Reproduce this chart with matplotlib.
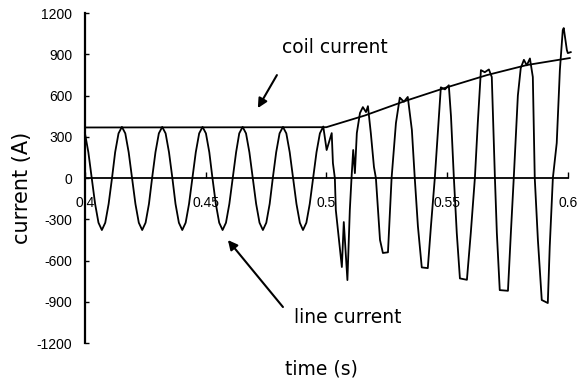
"""
Coil current and line current around the 0.5 s switching event.
"""
import matplotlib
matplotlib.use("Agg")
import matplotlib.pyplot as plt

plt.rcParams["axes.unicode_minus"] = False

# line current (A)
LINE_T = [0.4000, 0.4014, 0.4028, 0.4042, 0.4056, 0.4070, 0.4084, 0.4098, 0.4112, 0.4125,
          0.4139, 0.4153, 0.4167, 0.4181, 0.4195, 0.4209, 0.4223, 0.4237, 0.4251, 0.4265,
          0.4278, 0.4292, 0.4306, 0.4320, 0.4334, 0.4348, 0.4362, 0.4375, 0.4389, 0.4403,
          0.4417, 0.4431, 0.4445, 0.4459, 0.4473, 0.4487, 0.4501, 0.4515, 0.4528, 0.4542,
          0.4556, 0.4570, 0.4584, 0.4598, 0.4612, 0.4626, 0.4639, 0.4653, 0.4667, 0.4681,
          0.4695, 0.4709, 0.4723, 0.4737, 0.4751, 0.4765, 0.4778, 0.4792, 0.4806, 0.4820,
          0.4834, 0.4848, 0.4862, 0.4876, 0.4890, 0.4903, 0.4917, 0.4931, 0.4945, 0.4959,
          0.4973, 0.4987,
          0.5001, 0.5022, 0.5027, 0.5035, 0.5039, 0.5052, 0.5064, 0.5072, 0.5087, 0.5097,
          0.5104, 0.5111, 0.5118, 0.5126, 0.5139, 0.5151, 0.5164, 0.5172, 0.5184, 0.5197,
          0.5205, 0.5222, 0.5234, 0.5255, 0.5270,
          0.5288, 0.5304, 0.5321, 0.5337, 0.5354, 0.5366, 0.5379, 0.5395, 0.5420, 0.5433,
          0.5449, 0.5466, 0.5474, 0.5491, 0.5507, 0.5516, 0.5528, 0.5540, 0.5553, 0.5582,
          0.5598, 0.5615, 0.5627, 0.5640, 0.5656, 0.5673, 0.5685, 0.5698, 0.5706, 0.5718,
          0.5752, 0.5764, 0.5776, 0.5793, 0.5805, 0.5818, 0.5830, 0.5843, 0.5855, 0.5863,
          0.5876, 0.5892, 0.5917, 0.5925, 0.5938, 0.5954, 0.5967, 0.5979, 0.5983, 0.5996,
          0.6000, 0.6012]
LINE_I = [325, 188, 0, -188, -325, -378, -325, -188, 0, 188,
          325, 372, 325, 188, 0, -188, -325, -378, -325, -188,
          0, 188, 325, 372, 325, 188, 0, -188, -325, -378,
          -325, -188, 0, 188, 325, 372, 325, 188, 0, -188,
          -325, -378, -325, -188, 0, 188, 325, 372, 325, 188,
          0, -188, -325, -378, -325, -188, 0, 188, 325, 372,
          325, 188, 0, -188, -325, -378, -325, -188, 0, 188,
          325, 375,
          204, 327, 109, 0, -233, -451, -647, -320, -742, -233,
          0, 204, 36, 327, 473, 516, 480, 523, 327, 80,
          0, -450, -545, -540, 0,
          400, 585, 555, 590, 350, 0, -350, -650, -655, -350,
          0, 450, 660, 645, 675, 450, 0, -400, -730, -740,
          -400, 0, 400, 785, 770, 790, 735, 0, -400, -815,
          -820, -400, 0, 600, 800, 860, 820, 870, 735, 0,
          -450, -887, -909, -500, 0, 255, 785, 1076, 1091, 931,
          909, 916]

# coil current (A)
COIL_T = [0.40, 0.50, 0.5159, 0.5325, 0.5499, 0.5665, 0.5830, 0.6008]
COIL_I = [368, 370, 455, 560, 660, 749, 822, 873]

XTICKS = [0.4, 0.45, 0.5, 0.55, 0.6]
XTICK_LABELS = ["0.4", "0.45", "0.5", "0.55", "0.6"]
YTICKS = [-1200, -900, -600, -300, 0, 300, 600, 900, 1200]
YTICK_LABELS = ["-1200", "-900", "-600", "-300", "0", "300", "600", "900", "1200"]

TICK_FONT = "Liberation Sans"
LABEL_FONT = "DejaVu Sans"


def main():
    fig = plt.figure(figsize=(5.86, 3.85), dpi=100)
    ax = fig.add_axes([0.145, 0.109, 0.824, 0.857])

    ax.plot(LINE_T, LINE_I, color="black", lw=1.3, clip_on=False, zorder=3)
    ax.plot(COIL_T, COIL_I, color="black", lw=1.3, clip_on=False, zorder=3)

    ax.set_xlim(0.4, 0.6)
    ax.set_ylim(-1200, 1200)

    ax.spines[["top", "right"]].set_visible(False)
    ax.spines["bottom"].set_position(("data", 0))
    ax.spines["left"].set_linewidth(1.6)
    ax.spines["bottom"].set_linewidth(1.3)

    ax.set_xticks(XTICKS)
    ax.set_xticklabels(XTICK_LABELS, family=TICK_FONT, fontsize=10)
    ax.set_yticks(YTICKS)
    ax.set_yticklabels(YTICK_LABELS, family=TICK_FONT, fontsize=10)
    ax.tick_params(axis="x", direction="in", length=4, width=1, pad=13)
    ax.tick_params(axis="y", direction="in", length=3, width=1, pad=9)

    ax.set_xlabel("time (s)", family=LABEL_FONT, fontsize=13.5)
    ax.xaxis.set_label_coords(0.49, -0.05)
    ax.set_ylabel("current (A)", family=LABEL_FONT, fontsize=15)
    ax.yaxis.set_label_coords(-0.11, 0.47)

    # annotations
    ax.text(0.5035, 953, "coil current", family=LABEL_FONT, fontsize=13.5,
            ha="center", va="center")
    ax.annotate("", xy=(0.4716, 509), xytext=(0.4795, 749),
                arrowprops=dict(arrowstyle="-|>", color="black", lw=1.5,
                                mutation_scale=14, shrinkA=0, shrinkB=0))
    ax.text(0.5089, -1011, "line current", family=LABEL_FONT, fontsize=13.5,
            ha="center", va="center")
    ax.annotate("", xy=(0.4592, -451), xytext=(0.4820, -938),
                arrowprops=dict(arrowstyle="-|>", color="black", lw=1.5,
                                mutation_scale=14, shrinkA=0, shrinkB=0))

    fig.savefig("out.png", dpi=100)


if __name__ == "__main__":
    main()
